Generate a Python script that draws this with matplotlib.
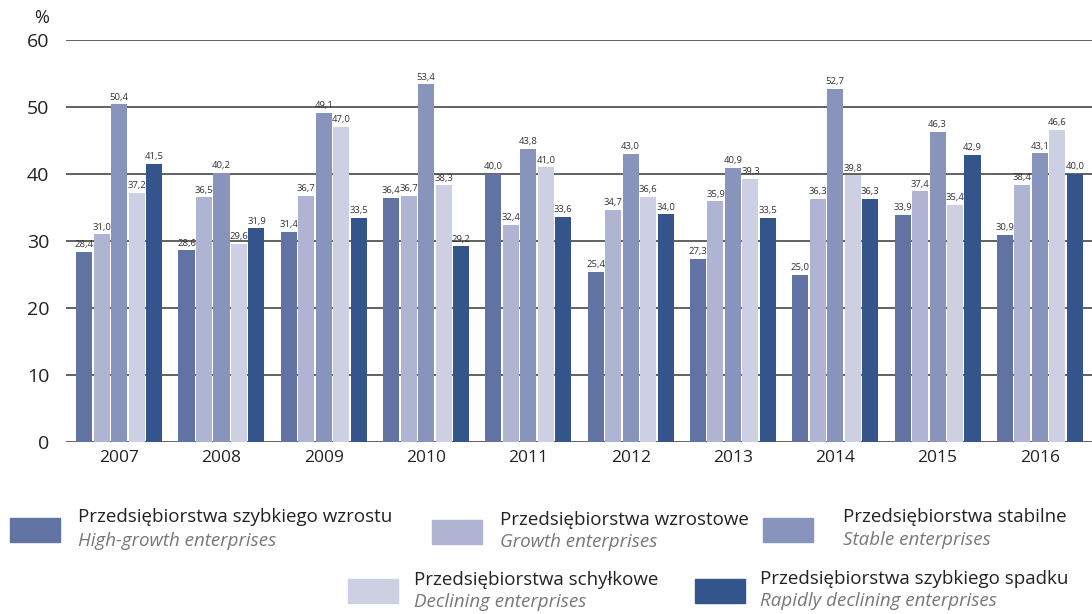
import matplotlib
matplotlib.use("Agg")
import matplotlib.pyplot as plt
from matplotlib.patches import Rectangle
import numpy as np

years = ["2007", "2008", "2009", "2010", "2011", "2012", "2013", "2014", "2015", "2016"]
high_growth = [28.4, 28.6, 31.4, 36.4, 40.0, 25.4, 27.3, 25.0, 33.9, 30.9]
growth = [31.0, 36.5, 36.7, 36.7, 32.4, 34.7, 35.9, 36.3, 37.4, 38.4]
stable = [50.4, 40.2, 49.1, 53.4, 43.8, 43.0, 40.9, 52.7, 46.3, 43.1]
declining = [37.2, 29.6, 47.0, 38.3, 41.0, 36.6, 39.3, 39.8, 35.4, 46.6]
rapid_decline = [41.5, 31.9, 33.5, 29.2, 33.6, 34.0, 33.5, 36.3, 42.9, 40.0]

labels_pl = ["Przedsiębiorstwa szybkiego wzrostu", "Przedsiębiorstwa wzrostowe",
             "Przedsiębiorstwa stabilne", "Przedsiębiorstwa schyłkowe",
             "Przedsiębiorstwa szybkiego spadku"]
labels_en = ["High-growth enterprises", "Growth enterprises", "Stable enterprises",
             "Declining enterprises", "Rapidly declining enterprises"]
colors = ["#6173a3", "#afb4d2", "#8894bb", "#cdd0e3", "#34548c"]

series = [high_growth, growth, stable, declining, rapid_decline]

plt.rcParams['font.family'] = ['Open Sans', 'DejaVu Sans']

fig = plt.figure(figsize=(10.92, 6.14), dpi=100)
ax = fig.add_axes([66/1092, 1-442/614, 1026/1092, 402/614])

x = np.arange(len(years))
w = 0.157
step = 0.171
for i, (vals, c) in enumerate(zip(series, colors)):
    pos = x + (i - 2) * step
    ax.bar(pos, vals, width=w, color=c, zorder=3)
    for p, v in zip(pos, vals):
        ax.text(p, v + 0.4, f"{v:.1f}".replace(".", ","), ha="center", va="bottom",
                fontsize=6.8, color="#333333", zorder=4)

ax.set_xlim(-0.52, 9.51)
ax.set_ylim(0, 60)
ax.set_yticks([0, 10, 20, 30, 40, 50, 60])
ax.yaxis.grid(True, color="#555555", linewidth=1.3, zorder=1)
for s in ax.spines.values():
    s.set_visible(False)
ax.tick_params(axis="both", length=0)
ax.tick_params(axis="y", labelsize=14, pad=12, colors="#222222")
ax.set_xticks(x)
ax.set_xticklabels(years, fontsize=12.5, color="#222222")
ax.tick_params(axis="x", pad=6)
fig.text(42/1092, 1-18/614, "%", fontsize=13, ha="center", va="center", color="#222222")

# legend: (patch x, patch top y, text x, polish y, english y)
entries = [
    (10, 518, 78, 517, 541),
    (432, 520, 500, 520, 542),
    (763, 518, 843, 517, 540),
    (348, 579, 414, 580, 602),
    (695, 579, 760, 579, 601),
]
for (px, py, tx, ty1, ty2), c, lp, le in zip(entries, colors, labels_pl, labels_en):
    fig.patches.append(Rectangle((px/1092, 1-(py+24)/614), 50/1092, 24/614,
                                 transform=fig.transFigure, color=c))
    fig.text(tx/1092, 1-ty1/614, lp, fontsize=13.5, ha="left", va="center", color="#222222")
    fig.text(tx/1092, 1-ty2/614, le, fontsize=13.5, ha="left", va="center",
             color="#777777", style="italic")

fig.savefig("out.png", dpi=100)
